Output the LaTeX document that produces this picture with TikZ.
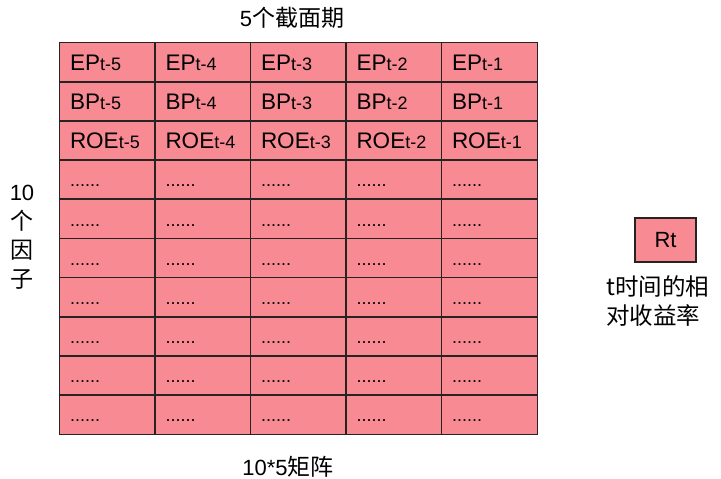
\documentclass[tikz,border=0pt]{standalone}
\usepackage{fontspec}
\setmainfont{Liberation Sans}
\newfontfamily\cjk{Noto Sans CJK SC}
\definecolor{cellpink}{RGB}{247,138,147}
\definecolor{gridline}{RGB}{40,35,35}

\begin{document}
\begin{tikzpicture}[x=1pt,y=-1pt]
      \tikzstyle{cell}=[fill=cellpink,inner sep=0pt,minimum width=95.5pt,minimum height=39.15pt]
      \tikzstyle{border}=[draw=gridline,line width=1.3pt]
      \tikzstyle{entry}=[anchor=base west,inner sep=0pt,font=\fontsize{22.5}{26}\selectfont]
      \tikzstyle{filler}=[anchor=base west,inner sep=0pt,font=\fontsize{18}{20}\selectfont]
      \tikzstyle{caption}=[inner sep=0pt,font=\fontsize{22}{29}\selectfont]
      \useasboundingbox (0,0) rectangle (721,479);
      \foreach \c in {1,...,5} {
        \foreach \r in {1,...,10} {\node[cell] at (11.75+95.5*\c,23.125+39.15*\r) (c\r-\c) {};}
      }
      \foreach \c in {1,...,5} {
        \foreach \r in {1,...,10} {\draw[border] (c\r-\c.north west) rectangle (c\r-\c.south east);}
      }
      \foreach \c/\k in {1/5,2/4,3/3,4/2,5/1} {
        \node[entry] at ([xshift=10.5pt,yshift=-28pt]c1-\c.north west) (ep\c) {EP{\fontsize{18}{20}\selectfont t-\k}};
        \node[entry] at ([xshift=10.5pt,yshift=-28pt]c2-\c.north west) (bp\c) {BP{\fontsize{18}{20}\selectfont t-\k}};
        \node[entry] at ([xshift=10.5pt,yshift=-28pt]c3-\c.north west) (roe\c) {ROE{\fontsize{18}{20}\selectfont t-\k}};
        \foreach \r in {4,...,10} {\node[filler] at ([xshift=10.5pt,yshift=-27pt]c\r-\c.north west) (d\r-\c) {......};}
      }
      \node[caption] at (292,18) (periods) {5{\cjk\fontsize{23}{29}\selectfont 个截面期}};
      \node[caption] at (288,467) (matrix) {10*5{\cjk\fontsize{23}{29}\selectfont 矩阵}};
      \node[caption,align=center] at (22,237) (factors) {10\\{\cjk\fontsize{23}{29}\selectfont 个}\\{\cjk\fontsize{23}{29}\selectfont 因}\\{\cjk\fontsize{23}{29}\selectfont 子}};
      \node[cell,border,minimum width=61pt,minimum height=44pt,font=\fontsize{22}{26}\selectfont] at (665.5,240) (rt) {Rt};
      \node[caption,align=left,anchor=north west,font=\cjk\fontsize{23.5}{29.5}\selectfont] at (606,275) (rtnote) {t时间的相\\对收益率};
    \end{tikzpicture}
\end{document}
